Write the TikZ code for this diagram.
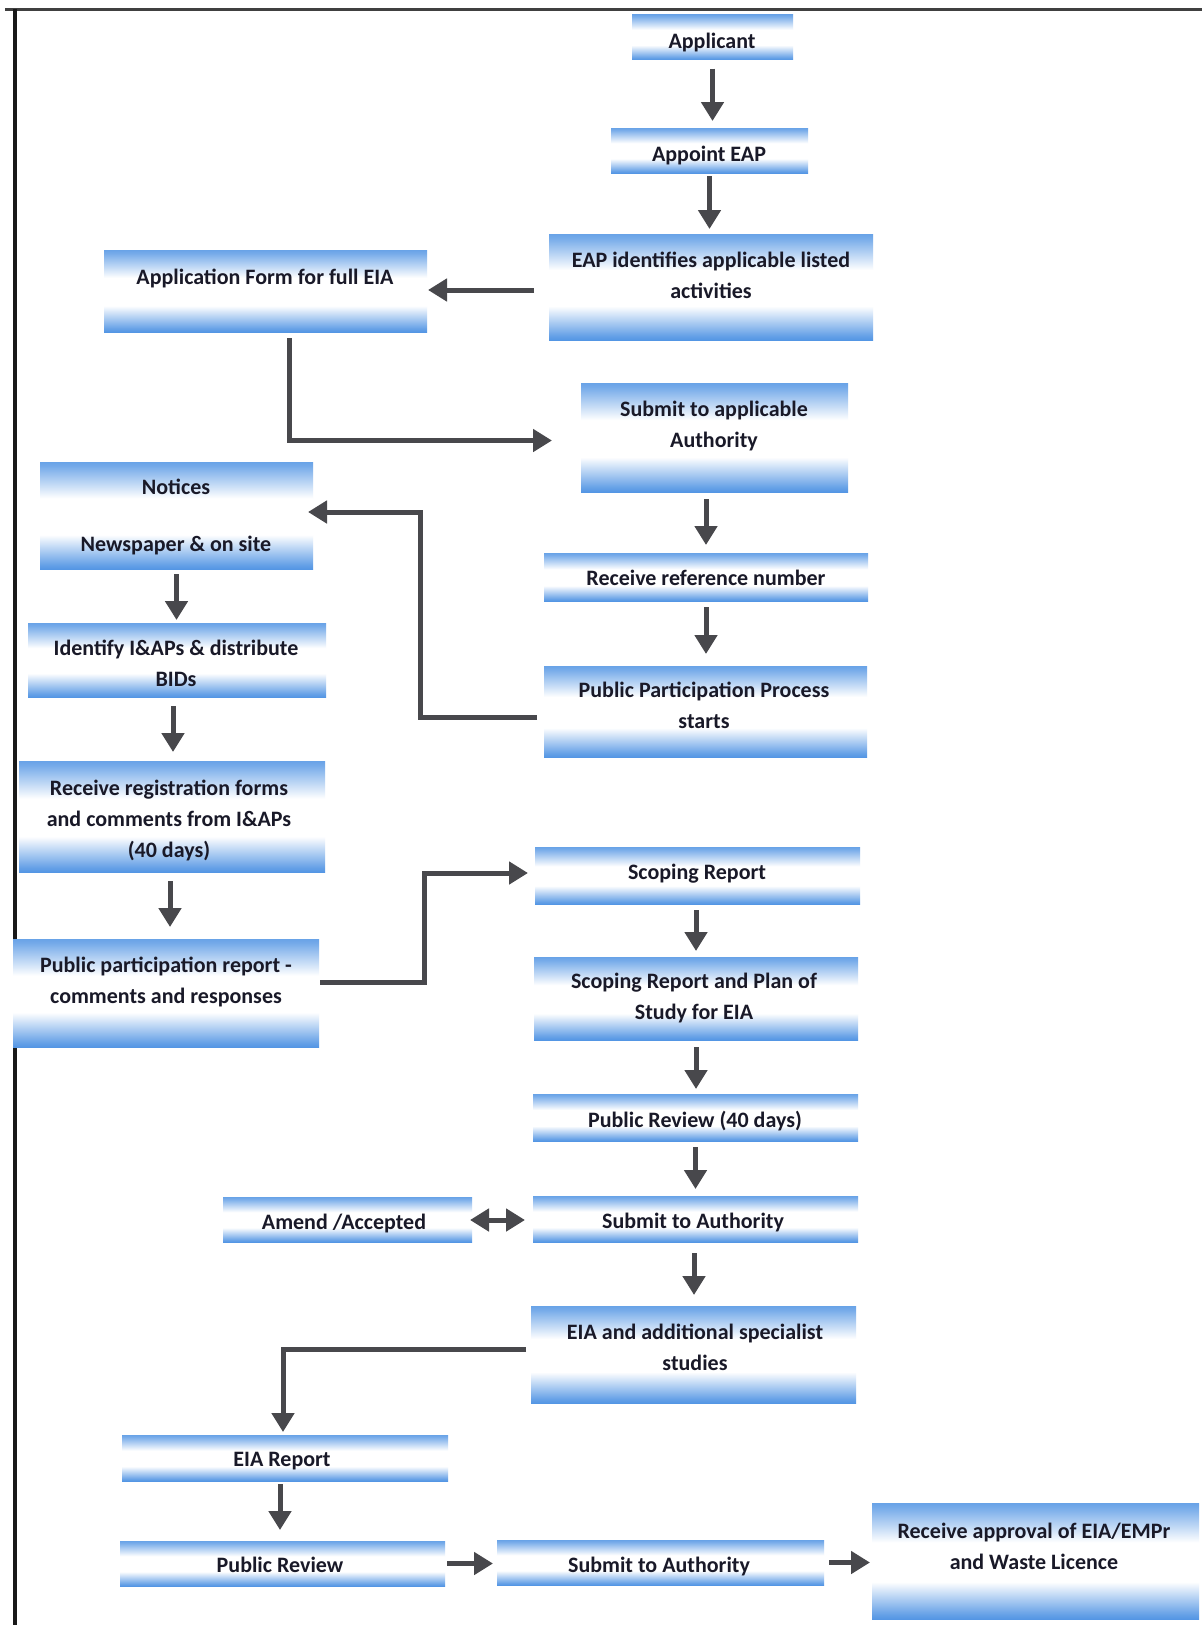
\documentclass[tikz,border=0pt]{standalone}
\usepackage{fontspec}
\setmainfont{Carlito}
\usetikzlibrary{arrows.meta,calc}
\definecolor{bblue}{RGB}{84,150,228}
\definecolor{txtc}{RGB}{25,25,40}
\definecolor{arrc}{RGB}{72,72,76}
\pgfdeclareverticalshading{boxband}{100bp}{color(0bp)=(bblue); color(25bp)=(bblue); color(27bp)=(bblue!90!white); color(41bp)=(white); color(58bp)=(white); color(73bp)=(bblue!80!white); color(75bp)=(bblue!88!white); color(100bp)=(bblue!88!white)}
\newcommand\ls{\rule[-6pt]{0pt}{22pt}}
\begin{document}
\begin{tikzpicture}[x=1pt,y=-1pt,
  box/.style={rectangle, draw=none, shade, shading=boxband, inner sep=0pt, outer sep=0pt},
  lbl/.style={font=\fontsize{22}{31}\selectfont\bfseries, text=txtc, align=center, inner sep=0pt},
  arr/.style={line width=5pt, draw=arrc, -{Triangle[width=22pt,length=19pt]}},
  darr/.style={line width=5pt, draw=arrc, {Triangle[width=22pt,length=19pt]}-{Triangle[width=22pt,length=19pt]}}]
\useasboundingbox (0,0) rectangle (1202,1625);
\fill[white] (0,0) rectangle (1202,1625);
% frame
\draw[line width=3pt, black!75] (5,9) -- (1202,9);
\draw[line width=3.5pt, black!90] (15,9) -- (15,1625);
% boxes
\node[box, minimum width=161pt, minimum height=45pt] (app) at (712.5,37) {};
\node[box, minimum width=197pt, minimum height=45pt] (appoint) at (709.5,150.5) {};
\node[box, minimum width=324pt, minimum height=106pt] (eap) at (711,287) {};
\node[box, minimum width=323pt, minimum height=82pt] (appform) at (265.5,291) {};
\node[box, minimum width=267pt, minimum height=109pt] (submit1) at (714.5,437.5) {};
\node[box, minimum width=273pt, minimum height=107pt] (notices) at (176.5,515.5) {};
\node[box, minimum width=324pt, minimum height=48pt] (refnum) at (706,577) {};
\node[box, minimum width=298pt, minimum height=74pt] (identify) at (177,660) {};
\node[box, minimum width=323pt, minimum height=91pt] (ppp) at (705.5,711.5) {};
\node[box, minimum width=306pt, minimum height=111pt] (receg) at (172,816.5) {};
\node[box, minimum width=325pt, minimum height=57pt] (scoping) at (697.5,875.5) {};
\node[box, minimum width=306pt, minimum height=108pt] (ppreport) at (166,993) {};
\node[box, minimum width=324pt, minimum height=83pt] (plan) at (696,998.5) {};
\node[box, minimum width=325pt, minimum height=47pt] (pubrevA) at (695.5,1117.5) {};
\node[box, minimum width=249pt, minimum height=45pt] (amend) at (347.5,1219.5) {};
\node[box, minimum width=325pt, minimum height=46pt] (submit2) at (695.5,1219) {};
\node[box, minimum width=325pt, minimum height=97pt] (eiaadd) at (693.5,1354.5) {};
\node[box, minimum width=326pt, minimum height=46pt] (eiarep) at (285,1458) {};
\node[box, minimum width=325pt, minimum height=45pt] (pubrev) at (282.5,1563.5) {};
\node[box, minimum width=327pt, minimum height=45pt] (submit3) at (660.5,1562.5) {};
\node[box, minimum width=327pt, minimum height=116pt] (approval) at (1035.5,1561) {};
% texts
\node[lbl] (tapp) at (712,43) {\ls Applicant};
\node[lbl] (tappoint) at (709,156) {\ls Appoint EAP};
\node[lbl] (teap) at (711,277.5) {\ls EAP identifies applicable listed\\\ls activities};
\node[lbl] (tappform) at (265,279) {\ls Application Form for full EIA};
\node[lbl] (tsubmit1) at (714,427) {\ls Submit to applicable\\\ls Authority};
\node[lbl] (tnotices) at (176,517.5) {\ls Notices\\[26pt]\ls Newspaper \& on site};
\node[lbl] (trefnum) at (706,580) {\ls Receive reference number};
\node[lbl] (tidentify) at (176,666) {\ls Identify I\&APs \& distribute\\\ls BIDs};
\node[lbl] (tppp) at (704,708) {\ls Public Participation Process\\\ls starts};
\node[lbl] (treceg) at (169,821) {\ls Receive registration forms\\\ls and comments from I\&APs\\\ls (40 days)};
\node[lbl] (tscoping) at (697,874) {\ls Scoping Report};
\node[lbl] (tppreport) at (166,983) {\ls Public participation report -\\\ls comments and responses};
\node[lbl] (tplan) at (694,998.5) {\ls Scoping Report and Plan of\\\ls Study for EIA};
\node[lbl] (tpubrevA) at (695,1122) {\ls Public Review (40 days)};
\node[lbl] (tamend) at (344,1224) {\ls Amend /Accepted};
\node[lbl] (tsubmit2) at (693,1223) {\ls Submit to Authority};
\node[lbl] (teiaadd) at (695,1349.5) {\ls EIA and additional specialist\\\ls studies};
\node[lbl] (teiarep) at (282,1461) {\ls EIA Report};
\node[lbl] (tpubrev) at (280,1567) {\ls Public Review};
\node[lbl] (tsubmit3) at (659,1567) {\ls Submit to Authority};
\node[lbl] (tapproval) at (1034,1548.5) {\ls Receive approval of EIA/EMPr\\\ls and Waste Licence};
% connectors
\draw[arr, shorten <=9pt, shorten >=7pt] (app.south) -- (app.south |- appoint.north);
\draw[arr, shorten <=3pt, shorten >=5pt] (appoint.south) -- (appoint.south |- eap.north);
\draw[arr, shorten <=15pt, shorten >=1pt] ([yshift=-3pt]eap.west) -- ([yshift=-3pt]eap.west -| appform.east);
\draw[arr] ($(appform.south)+(23.5,6)$) |- ($(submit1.west)+(-29,3)$);
\draw[arr, shorten <=7pt, shorten >=8pt] (refnum.north |- submit1.south) -- (refnum.north);
\draw[arr, shorten <=6pt, shorten >=12pt] (refnum.south) -- (refnum.south |- ppp.north);
\draw[arr] ($(ppp.west)+(-7,5.5)$) -| ($(notices.east)+(107,-3.5)$) -- ($(notices.east)+(-5,-3.5)$);
\draw[arr, shorten <=5pt, shorten >=3pt] (notices.south) -- (notices.south |- identify.north);
\draw[arr, shorten <=9pt, shorten >=9pt] ([xshift=1pt]receg.north |- identify.south) -- ([xshift=1pt]receg.north);
\draw[arr, shorten <=9pt, shorten >=12pt] ([xshift=-2pt]receg.south) -- ([xshift=-2pt]receg.south |- ppreport.north);
\draw[arr] ($(ppreport.east)+(1,-11)$) -| ($(scoping.west)+(-111,-2.5)$) -- ($(scoping.west)+(-7,-2.5)$);
\draw[arr, shorten <=6pt, shorten >=6pt] (plan.north |- scoping.south) -- (plan.north);
\draw[arr, shorten <=7pt, shorten >=5pt] (plan.south) -- (plan.south |- pubrevA.north);
\draw[arr, shorten <=6pt, shorten >=7pt] (pubrevA.south) -- (pubrevA.south |- submit2.north);
\draw[darr, shorten <=-2pt, shorten >=8pt] ([yshift=-0.5pt]amend.east) -- ([yshift=-0.5pt]amend.east -| submit2.west);
\draw[arr, shorten <=11pt, shorten >=11pt] ([xshift=-1.5pt]submit2.south) -- ([xshift=-1.5pt]submit2.south |- eiaadd.north);
\draw[arr] ($(eiaadd.west)+(-5,-5.5)$) -| ($(eiarep.north)+(-2,-3)$);
\draw[arr, shorten <=3pt, shorten >=11pt] ([xshift=-2.5pt]pubrev.north |- eiarep.south) -- ([xshift=-2.5pt]pubrev.north);
\draw[arr, shorten <=2pt, shorten >=4pt] (pubrev.east) -- (pubrev.east -| submit3.west);
\draw[arr, shorten <=5pt, shorten >=2pt] (submit3.east) -- (submit3.east -| approval.west);
\end{tikzpicture}
\end{document}
